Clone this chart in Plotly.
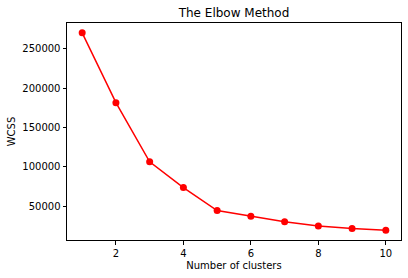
import plotly.graph_objects as go

clusters = [1, 2, 3, 4, 5, 6, 7, 8, 9, 10]
wcss = [269981, 181363, 106348, 73679, 44448, 37233, 30259, 25011, 21850, 19672]
x_ticks = [2, 4, 6, 8, 10]
y_ticks = [50000, 100000, 150000, 200000, 250000]

W, H = 408, 278
L, R, T, B = 67, 7, 23, 38

fig = go.Figure(go.Scatter(
    x=clusters, y=wcss, mode="lines+markers",
    line=dict(color="#ff0000", width=1.5),
    marker=dict(color="#ff0000", size=7),
))

span = max(wcss) - min(wcss)
ypad = 0.05 * span
fig.update_layout(
    width=W, height=H,
    margin=dict(l=L, r=R, t=T, b=B, pad=0),
    paper_bgcolor="white", plot_bgcolor="white",
    font=dict(family="DejaVu Sans", size=10, color="black"),
    showlegend=False,
    title=dict(text="The Elbow Method", x=0.5, xref="paper", xanchor="center",
               y=1 - 13 / H, yref="container", yanchor="middle",
               font=dict(size=12, color="black")),
)
common = dict(showline=True, linecolor="black", linewidth=1, mirror=True,
              ticks="outside", ticklen=3.5, tickwidth=0.8, tickcolor="black",
              showgrid=False, zeroline=False,
              tickfont=dict(size=10, color="black"))
fig.update_xaxes(range=[0.55, 10.45], tickvals=x_ticks,
                 ticktext=[str(v) for v in x_ticks],
                 title=dict(text="Number of clusters", standoff=4,
                            font=dict(size=10, color="black")), **common)
fig.update_yaxes(range=[min(wcss) - ypad, max(wcss) + ypad], tickvals=y_ticks,
                 ticktext=[str(v) for v in y_ticks],
                 title=dict(text="WCSS", standoff=4,
                            font=dict(size=10, color="black")), **common)

fig.write_html("out.html")
